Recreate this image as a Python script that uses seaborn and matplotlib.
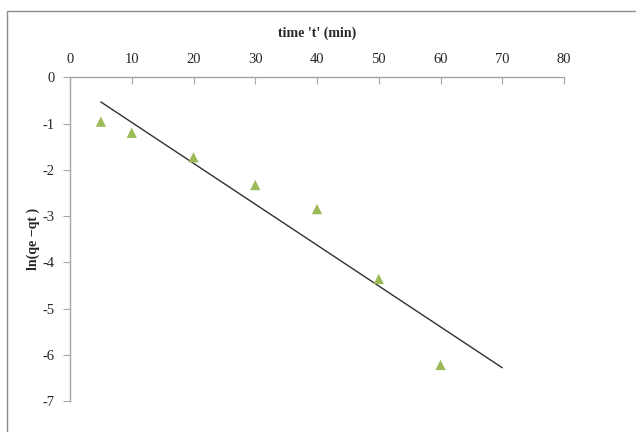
import numpy as np
import pandas as pd
import seaborn as sns
import matplotlib
matplotlib.use("Agg")
import matplotlib.pyplot as plt
from matplotlib.patches import Rectangle

time_min = [5, 10, 20, 30, 40, 50, 60]
ln_qe_qt = [-0.96, -1.20, -1.73, -2.33, -2.85, -4.36, -6.22]
trend_x = [5, 70]
x_ticks = [0, 10, 20, 30, 40, 50, 60, 70, 80]
y_ticks = [0, -1, -2, -3, -4, -5, -6, -7]

sns.set_style("white")
plt.rcParams['font.family'] = ['Liberation Serif', 'DejaVu Serif']

fig = plt.figure(figsize=(6.36, 4.32), dpi=100)
ax = fig.add_axes([70/636, 1-401/432, 494/636, 323.7/432])

df = pd.DataFrame({"t": time_min, "y": ln_qe_qt})
sns.scatterplot(data=df, x="t", y="y", marker="^", s=55, color="#9BBB59",
                edgecolor="none", ax=ax, zorder=3)

slope, intercept = np.polyfit(time_min, ln_qe_qt, 1)
tdf = pd.DataFrame({"t": trend_x, "y": [slope * v + intercept for v in trend_x]})
sns.lineplot(data=tdf, x="t", y="y", color="#303030", linewidth=1.0, ax=ax, zorder=2)

ax.set_xlim(0, 80)
ax.set_ylim(-7, 0)
ax.xaxis.tick_top()
ax.xaxis.set_label_position("top")
ax.set_xticks(x_ticks)
ax.set_yticks(y_ticks)
ax.set_xticklabels([str(v) for v in x_ticks], fontsize=10.5)
ax.set_yticklabels([str(v) for v in y_ticks], fontsize=10.5)
ax.set_xlabel("time 't' (min)", fontsize=10, fontweight="bold", labelpad=12)
ax.set_ylabel("ln(qe \u2212qt )", fontsize=10, fontweight="bold", labelpad=2)

for side in ["right", "bottom"]:
    ax.spines[side].set_visible(False)
for side in ["top", "left"]:
    ax.spines[side].set_color("#a6a6a6")
    ax.spines[side].set_linewidth(1.0)
ax.tick_params(axis="x", direction="in", length=5, color="#a6a6a6", pad=8, top=True, bottom=False)
ax.tick_params(axis="y", direction="out", length=5, color="#a6a6a6", pad=6, left=True)

fig.patches.append(Rectangle((7/636, -0.1), 1.2, 1 - 11/432 + 0.1,
                             transform=fig.transFigure, fill=False,
                             edgecolor="#8c8c8c", linewidth=1.0))

fig.savefig("out.png", dpi=100)
